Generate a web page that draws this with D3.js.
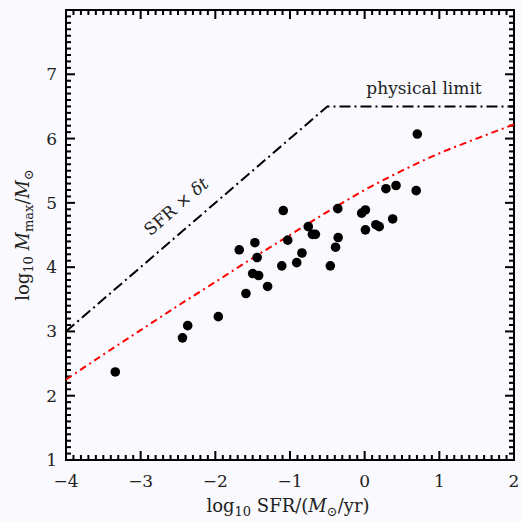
<!DOCTYPE html>
<html>
<head>
<meta charset="utf-8">
<script src="https://cdn.jsdelivr.net/npm/d3@7"></script>
<style>
  html, body { margin: 0; padding: 0; background: #f9f9fe; }
  svg { display: block; }
  text { font-family: "DejaVu Serif", "Liberation Serif", serif; fill: #222; }
</style>
</head>
<body>
<svg id="chart" width="521" height="521"></svg>
<script>
// observed clusters: log10 SFR vs log10 Mmax
var sfr = [-3.34, -2.44, -2.37, -1.96, -1.59, -1.68, -1.50, -1.42, -1.47, -1.44, -1.30,
	-1.11, -1.09, -1.03, -0.91, -0.84, -0.755, -0.70, -0.66, -0.46, -0.39, -0.355, -0.36,
	-0.04, 0.01, 0.01, 0.15, 0.195, 0.285, 0.375, 0.42, 0.69, 0.705];
var mmax = [2.37, 2.90, 3.09, 3.23, 3.59, 4.27, 3.90, 3.87, 4.38, 4.15, 3.70,
	4.02, 4.88, 4.42, 4.07, 4.22, 4.63, 4.51, 4.51, 4.02, 4.31, 4.46, 4.91,
	4.84, 4.89, 4.58, 4.66, 4.63, 5.22, 4.75, 5.27, 5.19, 6.07];

// red model curve
var modelX = [-4, -3.5, -3, -2.5, -2, -1.5, -1, -0.5, 0, 0.5, 1, 1.5, 2];
var modelY = [2.25, 2.64, 3.02, 3.40, 3.77, 4.14, 4.50, 4.86, 5.20, 5.50, 5.77, 6.00, 6.22];

// SFR x dt and the physical limit
var limitX = [-4, -0.5, 2];
var limitY = [3.0, 6.5, 6.5];

var xTicks = [-4, -3, -2, -1, 0, 1, 2];
var yTicks = [1, 2, 3, 4, 5, 6, 7];

var pLeft = 66, pRight = 514, pTop = 10, pBottom = 460;

var svg = d3.select("#chart");
var x = d3.scaleLinear().domain([-4, 2]).range([pLeft, pRight]);
var y = d3.scaleLinear().domain([1, 8]).range([pBottom, pTop]);

var minorX = d3.range(-40, 21).map(function (d) { return d / 10; });
var minorY = d3.range(10, 81).map(function (d) { return d / 10; });

function tickLen(v, big) {
	return Math.abs(v - Math.round(v)) < 1e-6 ? big : 5;
}

var ticks = svg.append("g").attr("stroke", "#000").attr("stroke-width", 2);
minorX.forEach(function (v) {
	var L = tickLen(v, 9);
	ticks.append("line").attr("x1", x(v)).attr("x2", x(v)).attr("y1", pBottom).attr("y2", pBottom - L);
	ticks.append("line").attr("x1", x(v)).attr("x2", x(v)).attr("y1", pTop).attr("y2", pTop + L);
});
minorY.forEach(function (v) {
	var L = tickLen(v, 9);
	ticks.append("line").attr("y1", y(v)).attr("y2", y(v)).attr("x1", pLeft).attr("x2", pLeft + L);
	ticks.append("line").attr("y1", y(v)).attr("y2", y(v)).attr("x1", pRight).attr("x2", pRight - L);
});

svg.append("rect")
	.attr("x", pLeft).attr("y", pTop)
	.attr("width", pRight - pLeft).attr("height", pBottom - pTop)
	.attr("fill", "none").attr("stroke", "#000").attr("stroke-width", 2);

var fmt = function (d) { return d < 0 ? "\u2212" + Math.abs(d) : "" + d; };

svg.append("g").selectAll("text").data(xTicks).enter().append("text")
	.attr("x", function (d) { return x(d); })
	.attr("y", 487)
	.attr("text-anchor", "middle")
	.attr("font-size", 17)
	.text(fmt);

svg.append("g").selectAll("text").data(yTicks).enter().append("text")
	.attr("x", 57)
	.attr("y", function (d) { return y(d) + 6; })
	.attr("text-anchor", "end")
	.attr("font-size", 17)
	.text(fmt);

var line = d3.line()
	.x(function (d) { return x(d[0]); })
	.y(function (d) { return y(d[1]); });

var clip = svg.append("clipPath").attr("id", "plotclip");
clip.append("rect").attr("x", pLeft).attr("y", pTop).attr("width", pRight - pLeft).attr("height", pBottom - pTop);

var plot = svg.append("g").attr("clip-path", "url(#plotclip)");

plot.append("path")
	.datum(limitX.map(function (v, i) { return [v, limitY[i]]; }))
	.attr("d", line)
	.attr("fill", "none")
	.attr("stroke", "#000")
	.attr("stroke-width", 2)
	.attr("stroke-dasharray", "11,4,2,4");

plot.append("path")
	.datum(modelX.map(function (v, i) { return [v, modelY[i]]; }))
	.attr("d", line.curve(d3.curveMonotoneX))
	.attr("fill", "none")
	.attr("stroke", "#f00")
	.attr("stroke-width", 2)
	.attr("stroke-dasharray", "7,4,2,4");

plot.append("g").selectAll("circle").data(sfr).enter().append("circle")
	.attr("cx", function (d) { return x(d); })
	.attr("cy", function (d, i) { return y(mmax[i]); })
	.attr("r", 4.8)
	.attr("fill", "#000");

// annotations
svg.append("text")
	.attr("x", 424).attr("y", 94)
	.attr("text-anchor", "middle")
	.attr("font-size", 17)
	.text("physical limit");

var ang = Math.atan((y(0) - y(1)) / (x(1) - x(0))) * 180 / Math.PI;
var sf = svg.append("text")
	.attr("transform", "translate(180,211) rotate(" + (-ang) + ")")
	.attr("text-anchor", "middle")
	.attr("font-size", 17);
sf.append("tspan").text("SFR \u00d7 ");
sf.append("tspan").attr("font-style", "italic").text("\u03b4t");

// axis labels
var xl = svg.append("text")
	.attr("x", 288).attr("y", 512)
	.attr("text-anchor", "middle")
	.attr("font-size", 18);
xl.append("tspan").text("log");
xl.append("tspan").attr("font-size", 13).attr("dy", 4).text("10");
xl.append("tspan").attr("dy", -4).text(" SFR/(");
xl.append("tspan").attr("font-style", "italic").text("M");
xl.append("tspan").attr("font-size", 13).attr("dy", 4).text("\u2299");
xl.append("tspan").attr("dy", -4).text("/yr)");

var yl = svg.append("text")
	.attr("transform", "translate(29,235) rotate(-90)")
	.attr("text-anchor", "middle")
	.attr("font-size", 18);
yl.append("tspan").text("log");
yl.append("tspan").attr("font-size", 13).attr("dy", 4).text("10");
yl.append("tspan").attr("dy", -4).attr("font-style", "italic").text(" M");
yl.append("tspan").attr("font-size", 13).attr("dy", 4).text("max");
yl.append("tspan").attr("dy", -4).text("/");
yl.append("tspan").attr("font-style", "italic").text("M");
yl.append("tspan").attr("font-size", 13).attr("dy", 4).text("\u2299");
</script>
</body>
</html>
